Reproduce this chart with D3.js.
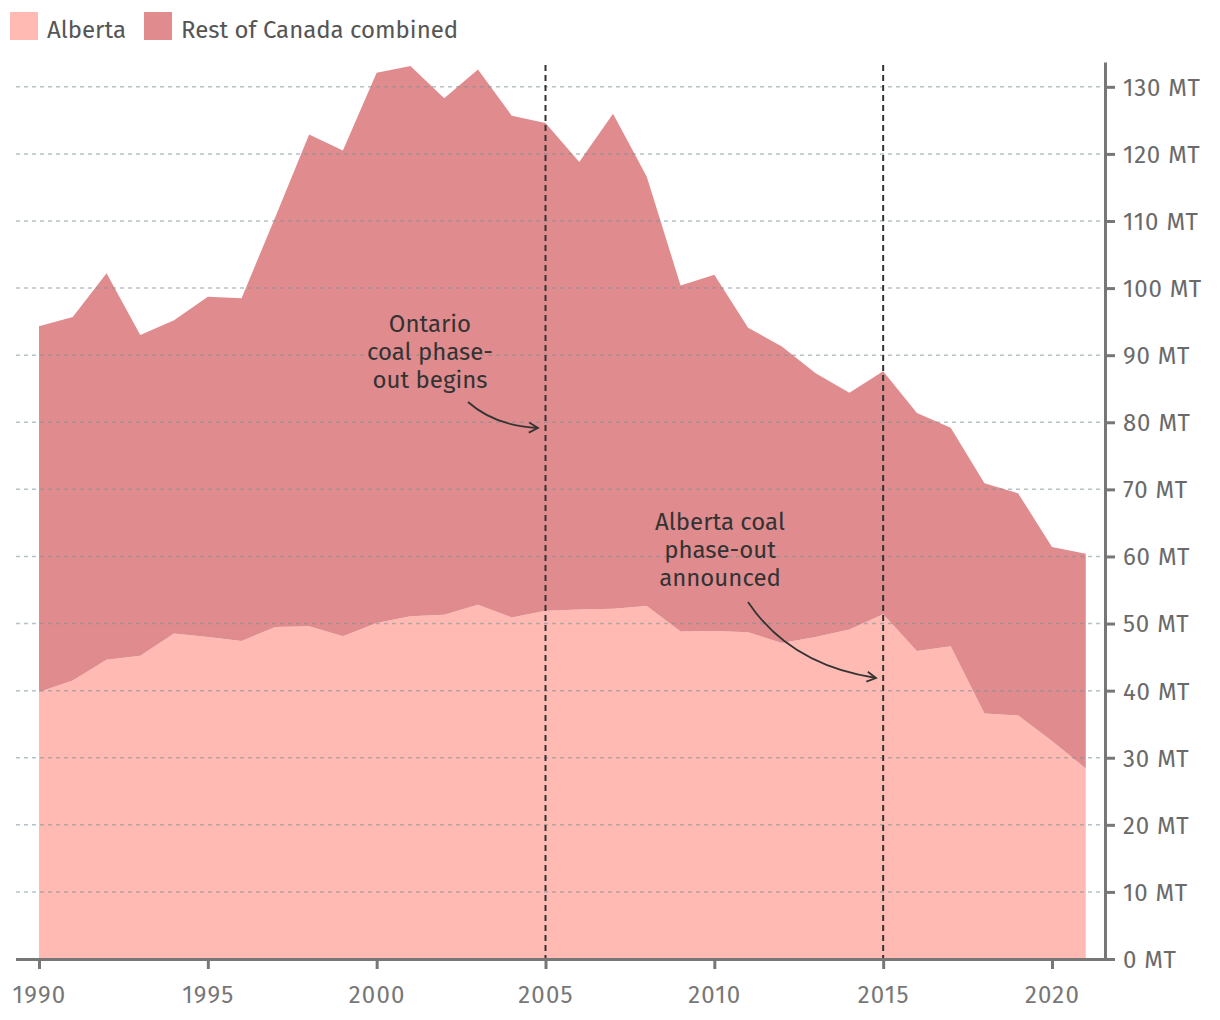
<!DOCTYPE html>
<html><head><meta charset="utf-8">
<script src="https://cdn.jsdelivr.net/npm/d3@7"></script>
<style>
body{margin:0;background:#fff;}
svg text{font-family:"Fira Sans","Noto Sans","Open Sans",sans-serif;}
</style></head>
<body><svg id="chart" width="1220" height="1020"></svg>
<script>
const years = d3.range(1990, 2022);
const alberta = [39.8,41.5,44.6,45.2,48.5,48.0,47.4,49.5,49.6,48.1,50.1,51.1,51.3,52.8,50.9,51.9,52.1,52.2,52.6,48.8,48.9,48.7,47.1,48.0,49.1,51.4,45.9,46.6,36.6,36.3,32.5,28.4];
const restOfCanada = [54.5,54.2,57.6,47.8,46.7,50.7,51.1,61.1,73.3,72.4,82.0,82.0,77.0,79.8,74.8,72.7,66.7,73.8,64.0,51.6,53.1,45.4,44.2,39.3,35.3,36.2,35.5,32.6,34.3,33.1,28.9,32.0];
const seriesNames = ["Alberta","Rest of Canada combined"];
const seriesColors = ["#ffbbb3","#e08c8f"];
const yTicks = [0,10,20,30,40,50,60,70,80,90,100,110,120,130];
const xTicks = [1990,1995,2000,2005,2010,2015,2020];
const events = [
  {year:2005, lines:["Ontario","coal phase-","out begins"]},
  {year:2015, lines:["Alberta coal","phase-out","announced"]}
];

const svg = d3.select("#chart");
const x = d3.scaleLinear().domain([1990,2020]).range([39,1052]);
const y = d3.scaleLinear().domain([0,133.7]).range([959,62]);

const table = years.map((yr,i)=>({year:yr, a:alberta[i], r:restOfCanada[i]}));
const stack = d3.stack().keys(["a","r"])(table);
const area = d3.area().x(d=>x(d.data.year)).y0(d=>y(d[0])).y1(d=>y(d[1]));

svg.append("g").selectAll("path").data(stack).join("path")
  .attr("d", area).attr("fill",(d,i)=>seriesColors[i]);

// gridlines
svg.append("g").selectAll("line").data(yTicks.filter(t=>t>0)).join("line")
  .attr("x1",16).attr("x2",1105).attr("y1",d=>y(d)).attr("y2",d=>y(d))
  .attr("stroke","#7a9098").attr("stroke-opacity",0.55).attr("stroke-width",1.5)
  .attr("stroke-dasharray","4,4");

// event lines
svg.append("g").selectAll("line").data(events).join("line")
  .attr("x1",d=>x(d.year)).attr("x2",d=>x(d.year)).attr("y1",65).attr("y2",959)
  .attr("stroke","#333").attr("stroke-width",2).attr("stroke-dasharray","6,4");

// y axis
const yAxis = d3.axisRight(y).tickValues(yTicks).tickSize(10).tickSizeOuter(0).tickPadding(8)
  .tickFormat(d=>d+" MT");
const gy = svg.append("g").attr("transform","translate(1105,0)").call(yAxis);
gy.select(".domain").attr("stroke","#777").attr("stroke-width",3);
gy.selectAll(".tick line").attr("stroke","#777").attr("stroke-width",3);
gy.selectAll(".tick text").attr("fill","#6a6a6a").attr("font-size",24).attr("dy","0.35em")
  .attr("letter-spacing","0.8px");

// x axis
svg.append("line").attr("x1",16).attr("x2",1105).attr("y1",959.5).attr("y2",959.5)
  .attr("stroke","#777").attr("stroke-width",3);
const xAxis = d3.axisBottom(x).tickValues(xTicks).tickSize(10).tickPadding(17).tickFormat(d3.format("d"));
const gx = svg.append("g").attr("transform","translate(0,959)").call(xAxis);
gx.select(".domain").remove();
gx.selectAll(".tick line").attr("stroke","#777").attr("stroke-width",3);
gx.selectAll(".tick text").attr("fill","#777").attr("font-size",24).attr("letter-spacing","1.2px");

// legend
const lg = svg.append("g");
const legX = [10,144];
seriesNames.forEach((n,i)=>{
  lg.append("rect").attr("x",legX[i]).attr("y",12).attr("width",28).attr("height",28).attr("fill",seriesColors[i]);
  lg.append("text").attr("x",legX[i]+37).attr("y",38).attr("font-size",24).attr("fill","#555").text(n);
});

// annotations
const annPos = [{cx:430, y0:332, ax0:468, ay0:402, ax1:538, ay1:428, cxp:495, cyp:426},
                {cx:720, y0:530, ax0:748, ay0:602, ax1:876, ay1:678, cxp:790, cyp:665}];
svg.append("defs").append("marker").attr("id","arr").attr("viewBox","0 0 12 12")
  .attr("refX",10).attr("refY",6).attr("markerWidth",12).attr("markerHeight",12)
  .attr("orient","auto").attr("markerUnits","userSpaceOnUse")
  .append("path").attr("d","M1,1 L10,6 L1,11").attr("fill","none").attr("stroke","#333").attr("stroke-width",1.8);
events.forEach((e,i)=>{
  const p = annPos[i];
  const t = svg.append("text").attr("text-anchor","middle").attr("font-size",24).attr("fill","#333");
  e.lines.forEach((l,j)=>t.append("tspan").attr("x",p.cx).attr("y",p.y0+j*28).text(l));
  svg.append("path").attr("d",`M${p.ax0},${p.ay0} Q${p.cxp},${p.cyp} ${p.ax1},${p.ay1}`)
    .attr("fill","none").attr("stroke","#333").attr("stroke-width",1.8).attr("marker-end","url(#arr)");
});
</script></body></html>
